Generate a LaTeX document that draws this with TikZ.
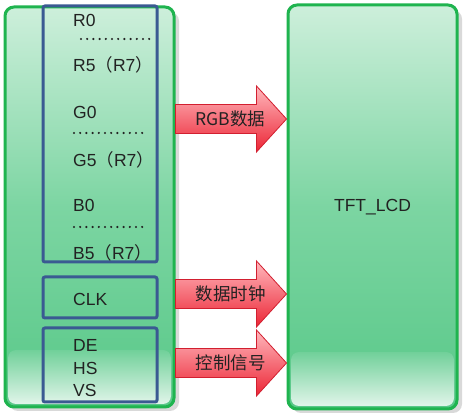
\documentclass[tikz,border=0pt]{standalone}
\usepackage{fontspec}
\setmainfont{Liberation Sans}
\newfontfamily\cjk{Noto Sans CJK SC}
\usetikzlibrary{calc}
\definecolor{gborder}{HTML}{1FB44F}
\definecolor{gfill}{HTML}{58C888}
\definecolor{gmid}{HTML}{7CD5A2}
\definecolor{glight}{HTML}{CDEFDB}
\definecolor{bframe}{HTML}{3A5A92}
\definecolor{rarrow}{HTML}{EC2535}
\definecolor{rmid}{HTML}{F33C4A}
\definecolor{rlight}{HTML}{FFB8BD}
\definecolor{rline}{HTML}{D21F30}
\definecolor{txt}{HTML}{222222}
\tikzset{
  gbox/.style={draw=gborder, line width=3pt, rounded corners=9pt,
    top color=glight, bottom color=gfill, middle color=gmid, inner sep=0pt},
  bbox/.style={draw=bframe, line width=3pt, rounded corners=2pt},
  lbl/.style={anchor=west, inner sep=0pt, text=txt, font=\fontsize{17.5}{20}\selectfont},
  albl/.style={inner sep=0pt, text=txt, font=\fontsize{17.5}{20}\selectfont\cjk},
  redarrow/.style={draw=rline, line width=0.8pt, top color=rlight, middle color=rmid, bottom color=rarrow, line join=miter},
  gloss/.style={top color=white!15!gfill, bottom color=white!82!gfill, rounded corners=8pt},
  dotrow/.style={line width=2.4pt, line cap=round, dash pattern=on 0pt off 6.2pt, txt},
}
\newcommand{\fwp}[1]{{\cjk #1}}
\begin{document}
\begin{tikzpicture}[x=1pt,y=-1pt]
\useasboundingbox[fill=white] (0,0) rectangle (469,419);
% shadows
\fill[black!15, rounded corners=9pt] (9,12) rectangle (179,411);
\fill[black!15, rounded corners=9pt] (292,10) rectangle (462,413);
% boxes
\node[gbox, minimum width=169pt, minimum height=400pt] (left) at (89.5,207) {};
\node[gbox, minimum width=169pt, minimum height=404pt] (right) at (372.5,207) {};
% bottom gloss
\shade[gloss] (8,350) rectangle (171,404);
\shade[gloss] (291,352) rectangle (454,406);
\node[text=txt, font=\fontsize{17.5}{20}\selectfont] (lcd) at (right) {TFT\_LCD};
% blue frames
\node[bbox, minimum width=114pt, minimum height=256pt] (f1) at (100,134) {};
\node[bbox, minimum width=114pt, minimum height=41pt] (f2) at (100,297.5) {};
\node[bbox, minimum width=114pt, minimum height=74pt] (f3) at (100,365) {};
% texts
\node[lbl] (r0) at (73,20) {R0};
\draw[dotrow] (81,39) -- (150,39);
\node[lbl] (r5) at (73,65) {R5\fwp{（}R7\fwp{）}};
\node[lbl] (g0) at (73,112) {G0};
\draw[dotrow] (74,133) -- (143,133);
\node[lbl] (g5) at (73,160) {G5\fwp{（}R7\fwp{）}};
\node[lbl] (b0) at (73,205) {B0};
\draw[dotrow] (74,227) -- (143,227);
\node[lbl] (b5) at (73,253) {B5\fwp{（}R7\fwp{）}};
\node[lbl] (clk) at (73,299) {CLK};
\node[lbl] (de) at (73,345) {DE};
\node[lbl] (hs) at (73,368) {HS};
\node[lbl] (vs) at (73,390) {VS};
% arrows
\foreach \n/\c/\t in {a1/119/RGB数据, a2/294/数据时钟, a3/363/控制信号}{
  \coordinate (\n s) at (left.east |- 0,\c);
  \coordinate (\n e) at (right.west |- 0,\c);
  \draw[redarrow] ($(\n s)+(0,-14.5)$) -- ($(\n e)+(-30,-14.5)$) -- ($(\n e)+(-30,-33)$)
     -- (\n e) -- ($(\n e)+(-30,33)$) -- ($(\n e)+(-30,14.5)$) -- ($(\n s)+(0,14.5)$) -- cycle;
  \node[albl] (\n l) at ($(\n s)+(55,0)$) {\t};
}
\end{tikzpicture}
\end{document}
